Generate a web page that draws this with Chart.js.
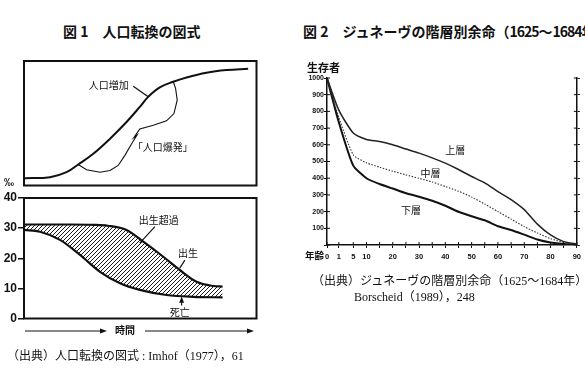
<!DOCTYPE html>
<html><head><meta charset="utf-8">
<script src="https://cdn.jsdelivr.net/npm/chart.js@4.4.1/dist/chart.umd.min.js"></script>
<style>
html,body{margin:0;padding:0;background:#fff;}
body{width:585px;height:370px;position:relative;overflow:hidden;font-family:"Noto Sans CJK JP",sans-serif;color:#111;}
.t{position:absolute;white-space:nowrap;line-height:1;}
.b{font-weight:bold;}
.cap{font-family:"Liberation Serif","Noto Sans CJK JP",serif;font-size:12px;}
.nd{letter-spacing:-1px;}
canvas{position:absolute;}
svg{position:absolute;left:0;top:0;}
</style></head><body>
<div class="t b" style="left:63px;top:24px;font-size:14px;">図 1　人口転換の図式</div>
<div class="t b" style="left:303px;top:24px;font-size:14px;">図 2　ジュネーヴの階層別余命（<span class="nd">1625</span>～<span class="nd">1684</span>年）</div>

<canvas id="cA" width="300" height="145" style="left:0;top:50px"></canvas>
<canvas id="cB" width="300" height="140" style="left:0;top:188px"></canvas>
<canvas id="cC" width="285" height="210" style="left:300px;top:60px"></canvas>

<div class="t b" style="left:4px;top:178px;font-size:10px;font-family:'Liberation Sans',sans-serif;">‰</div>
<div class="t b" style="left:115px;top:325px;font-size:10px;">時間</div>
<svg width="585" height="370">
  <line x1="25" y1="331" x2="103" y2="331" stroke="#111" stroke-width="1.2"/>
  <polygon points="107,331 100,328.5 100,333.5" fill="#111"/>
  <line x1="145" y1="331" x2="250" y2="331" stroke="#111" stroke-width="1.2"/>
  <polygon points="254,331 247,328.5 247,333.5" fill="#111"/>
</svg>
<div class="t cap" style="left:7px;top:350px;">（出典）人口転換の図式 : Imhof（1977），61</div>

<div class="t b" style="left:307px;top:62px;font-size:11px;">生存者</div>
<div class="t b" style="left:305px;top:251px;font-size:9.5px;">年齢</div>
<div class="t cap" style="left:312px;top:275px;">（出典）ジュネーヴの階層別余命（1625～1684年）:</div>
<div class="t cap" style="left:354px;top:291px;">Borscheid（1989），248</div>

<script>
// ---- Figure 1 data (schematic) ----
const GROWTH_T = [0.4, 11.2, 18.3, 23.3, 29.8, 37, 44.1, 49.8, 53.4, 58.4, 64.2, 69.9, 78.5, 87.1, 96.4];
const GROWTH   = [5.9, 6.7, 10.7, 16.9, 25.5, 37.6, 51, 63.1, 71.2, 78.8, 83.3, 86.8, 90.6, 92.7, 93.8];
const BIRTH_T  = [0, 10, 20, 30, 36, 44.1, 51.3, 59.9, 67, 74.2, 81.4, 85.4];
const BIRTH    = [31.2, 31.2, 31.2, 31.1, 30.8, 29.4, 25.5, 20.5, 16.1, 12.2, 10.8, 10.6];
const DEATH_T  = [0, 6.9, 15.5, 24.1, 32.7, 41.3, 49.8, 61.3, 72.8, 85.4];
const DEATH    = [29.4, 28.8, 26.1, 21.1, 15.5, 11.7, 9.5, 7.8, 7.2, 7.0];
const RATE_TICKS = [0, 10, 20, 30, 40];

// ---- Figure 2 data (survivors per 1000 by age) ----
const AGES   = [0, 1, 5, 10, 15, 20, 25, 30, 35, 40, 45, 50, 55, 60, 65, 70, 75, 80, 85, 90];
const UPPER  = [1000, 808, 670, 632, 620, 600, 575, 550, 522, 490, 452, 410, 372, 320, 272, 212, 125, 60, 20, 5];
const MIDDLE = [1000, 765, 540, 492, 466, 442, 420, 399, 377, 350, 322, 287, 245, 200, 155, 110, 72, 38, 15, 4];
const LOWER  = [1000, 735, 475, 400, 365, 338, 310, 289, 265, 235, 199, 172, 148, 112, 90, 62, 33, 15, 6, 3];
const AGE_TICKS  = [0, 1, 5, 10, 15, 20, 25, 30, 35, 40, 45, 50, 55, 60, 65, 70, 75, 80, 85, 90];
const AGE_LABELS = [0, 1, 5, 10, 20, 30, 40, 50, 60, 70, 80, 90];
const SURV_TICKS = [0, 100, 200, 300, 400, 500, 600, 700, 800, 900, 1000];

const INK = '#111';
const pts = (xs, ys) => xs.map((x, i) => ({x, y: ys[i]}));

// age axis of an abridged life table: first intervals drawn wider
const WARP_IN = [0, 1, 5, 10, 90], WARP_OUT = [-5, -0.5, 5, 10, 90];
function interp(v, a, b){
  if (v <= a[0]) return b[0] + (v - a[0]) * (b[1]-b[0])/(a[1]-a[0]);
  for (let i = 1; i < a.length; i++) if (v <= a[i]) return b[i-1] + (v - a[i-1])*(b[i]-b[i-1])/(a[i]-a[i-1]);
  const n = a.length - 1; return b[n] + (v - a[n]) * (b[n]-b[n-1])/(a[n]-a[n-1]);
}
class WarpScale extends Chart.LinearScale {
  getPixelForValue(v){ if (v === null || v === undefined) return NaN; const a = interp(this.min, WARP_IN, WARP_OUT), b = interp(this.max, WARP_IN, WARP_OUT); return this.getPixelForDecimal((interp(v, WARP_IN, WARP_OUT) - a)/(b - a)); }
  getValueForPixel(p){ const a = interp(this.min, WARP_IN, WARP_OUT), b = interp(this.max, WARP_IN, WARP_OUT); return interp(a + this.getDecimalForPixel(p)*(b - a), WARP_OUT, WARP_IN); }
}
WarpScale.id = 'warp';
WarpScale.defaults = Chart.LinearScale.defaults;
Chart.register(WarpScale);

Chart.defaults.animation = false;
Chart.defaults.events = [];
Chart.defaults.plugins.legend.display = false;
Chart.defaults.plugins.tooltip.enabled = false;

const boxPlugin = { id: 'box', afterDatasetsDraw(c){
  const o = c.options.plugins.box; if (!o) return;
  const {left, top, right, bottom} = c.chartArea, ctx = c.ctx;
  ctx.save(); ctx.strokeStyle = INK; ctx.lineWidth = o.w || 2;
  ctx.strokeRect(left, top, right - left, bottom - top); ctx.restore();
}};
const notesPlugin = { id: 'notes', afterDraw(c){
  const o = c.options.plugins.notes; if (!o) return;
  const ctx = c.ctx, xs = c.scales.x, ys = c.scales.y;
  const P = (p) => [xs.getPixelForValue(p[0]), ys.getPixelForValue(p[1])];
  ctx.save(); ctx.strokeStyle = INK; ctx.fillStyle = INK;
  (o.paths || []).forEach(pa => {
    ctx.lineWidth = pa.w || 1.2; ctx.beginPath();
    pa.pts.forEach((p, i) => { const q = P(p); i ? ctx.lineTo(q[0], q[1]) : ctx.moveTo(q[0], q[1]); });
    ctx.stroke();
    if (pa.arrow){ const q = P(pa.pts[pa.pts.length-1]); ctx.beginPath(); ctx.moveTo(q[0], q[1]-1); ctx.lineTo(q[0]-2.5, q[1]+5); ctx.lineTo(q[0]+2.5, q[1]+5); ctx.closePath(); ctx.fill(); }
  });
  (o.texts || []).forEach(t => {
    const q = P(t.at); ctx.font = t.font || '10px "Noto Sans CJK JP"';
    ctx.textAlign = 'center'; ctx.textBaseline = 'middle'; ctx.fillText(t.text, q[0], q[1]);
  });
  ctx.restore();
}};
const innerTicks = { id: 'innerTicks', afterDraw(c){
  const ctx = c.ctx; ctx.save(); ctx.strokeStyle = INK; ctx.lineWidth = 1;
  const a = c.chartArea;
  c.scales.x.ticks.forEach((t, i) => { const px = c.scales.x.getPixelForTick(i); ctx.beginPath(); ctx.moveTo(px, a.bottom); ctx.lineTo(px, a.bottom - 3); ctx.stroke(); });
  c.scales.y.ticks.forEach((t, i) => { const py = c.scales.y.getPixelForTick(i); ctx.beginPath(); ctx.moveTo(a.left, py); ctx.lineTo(a.left + 3, py); ctx.stroke(); });
  c.scales.y2.ticks.forEach((t, i) => { const py = c.scales.y2.getPixelForTick(i); ctx.beginPath(); ctx.moveTo(a.right, py); ctx.lineTo(a.right - 3, py); ctx.stroke(); });
  ctx.restore();
}};

function hatchPattern(){
  const s = 4, cv = document.createElement('canvas'); cv.width = s; cv.height = s;
  const g = cv.getContext('2d'); g.strokeStyle = '#1a1a1a'; g.lineWidth = 1;
  g.beginPath(); g.moveTo(0, s); g.lineTo(s, 0); g.moveTo(-1, 1); g.lineTo(1, -1); g.moveTo(s-1, s+1); g.lineTo(s+1, s-1); g.stroke();
  return g.createPattern(cv, 'repeat');
}

// Figure 1, top: population growth
new Chart(document.getElementById('cA'), {
  type: 'line',
  data: { datasets: [{ data: pts(GROWTH_T, GROWTH), borderColor: INK, borderWidth: 2, pointRadius: 0, tension: 0.4, fill: false }] },
  options: {
    responsive: false,
    layout: { padding: { left: 24, right: 43.5, top: 11, bottom: 9.5 } },
    scales: { x: { type: 'linear', min: 0, max: 100, display: false }, y: { min: 0, max: 100, display: false } },
    plugins: {
      box: { w: 2 },
      notes: {
        paths: [
          { pts: [[47, 79.8], [53.4, 71.2]], w: 1.2 },
          { pts: [[23.3, 16.9], [26.9, 12.6], [32.7, 10.7], [37, 12.1], [40.5, 16.1], [43.4, 24.2], [46.3, 33.6], [48.6, 40.5], [47.3, 38.6], [49.8, 45.4], [55.6, 48.4], [61.3, 51.9], [64.5, 57.8], [65.9, 68.5], [65.2, 78], [64.2, 83.3]], w: 1.1 }
        ],
        texts: [
          { text: '人口増加', at: [36.5, 80.6] },
          { text: '「人口爆発」', at: [59.7, 30.6] }
        ]
      }
    }
  },
  plugins: [boxPlugin, notesPlugin]
});

// Figure 1, bottom: birth and death rates
new Chart(document.getElementById('cB'), {
  type: 'line',
  data: { datasets: [
    { label: '出生', data: pts(BIRTH_T, BIRTH), borderColor: INK, borderWidth: 2.2, pointRadius: 0, cubicInterpolationMode: 'monotone', fill: false },
    { label: '死亡', data: pts(DEATH_T, DEATH), borderColor: INK, borderWidth: 2.2, pointRadius: 0, cubicInterpolationMode: 'monotone', fill: '-1', backgroundColor: hatchPattern() }
  ] },
  options: {
    responsive: false,
    layout: { padding: { left: 0, right: 43.5, top: 10, bottom: 9.5 } },
    scales: {
      x: { type: 'linear', min: 0, max: 100, display: false },
      y: { min: 0, max: 40, afterFit(s){ s.width = 24; }, afterBuildTicks(s){ s.ticks = RATE_TICKS.map(v => ({value: v})); },
           ticks: { font: { family: 'Liberation Sans', weight: 'bold', size: 12 }, color: INK, padding: 1 },
           grid: { drawOnChartArea: false, tickLength: 6, color: INK, lineWidth: 1.5 }, border: { display: false } }
    },
    plugins: {
      box: { w: 2 },
      notes: {
        paths: [
          { pts: [[56.3, 30.5], [49.8, 25]], w: 1.2 },
          { pts: [[69.2, 19.4], [67, 16.7]], w: 1.2 },
          { pts: [[67.8, 4.3], [67.8, 6.9]], w: 1.1, arrow: true }
        ],
        texts: [
          { text: '出生超過', at: [58, 32.7] },
          { text: '出生', at: [70.5, 21.7] },
          { text: '死亡', at: [67, 2.2] }
        ]
      }
    }
  },
  plugins: [boxPlugin, notesPlugin]
});

// Figure 2: survivors by social stratum, Geneva 1625-1684
new Chart(document.getElementById('cC'), {
  type: 'line',
  data: { datasets: [
    { label: '上層', data: pts(AGES, UPPER), borderColor: '#222', borderWidth: 1.5, pointRadius: 0, tension: 0.2, fill: false },
    { label: '中層', data: pts(AGES, MIDDLE), borderColor: '#333', borderWidth: 1.1, borderDash: [1.5, 1.5], pointRadius: 0, tension: 0.2, fill: false },
    { label: '下層', data: pts(AGES, LOWER), borderColor: INK, borderWidth: 2, pointRadius: 0, tension: 0.2, fill: false }
  ] },
  options: {
    responsive: false,
    layout: { padding: { left: 0, right: 0, top: 18, bottom: 0 } },
    scales: {
      x: { type: 'warp', min: 0, max: 90, position: 'bottom',
           afterFit(s){ s.height = 25; }, afterBuildTicks(s){ s.ticks = AGE_TICKS.map(v => ({value: v})); },
           ticks: { autoSkip: false, maxRotation: 0, padding: 4, color: INK, font: { family: 'Liberation Sans', weight: 'bold', size: 7.5 },
                    callback: (v) => AGE_LABELS.includes(v) ? String(v) : '' },
           grid: { drawOnChartArea: false, tickLength: 3, color: INK, lineWidth: 1 }, border: { display: true, color: INK, width: 1.5 } },
      y: { min: 0, max: 1000, position: 'left',
           afterFit(s){ s.width = 27; }, afterBuildTicks(s){ s.ticks = SURV_TICKS.map(v => ({value: v})); },
           ticks: { padding: 0, color: INK, font: { family: 'Liberation Sans', weight: 'bold', size: 7 }, callback: (v) => v === 0 ? '' : String(v) },
           grid: { drawOnChartArea: false, tickLength: 3, color: INK, lineWidth: 1 }, border: { display: true, color: INK, width: 1.5 } },
      y2: { min: 0, max: 1000, position: 'right',
           afterFit(s){ s.width = 4.5; }, afterBuildTicks(s){ s.ticks = SURV_TICKS.map(v => ({value: v})); },
           ticks: { display: false },
           grid: { drawOnChartArea: false, tickLength: 3, color: INK, lineWidth: 1 }, border: { display: true, color: INK, width: 1.5 } }
    },
    plugins: {
      notes: {
        texts: [
          { text: '上層', at: [43.8, 569] },
          { text: '中層', at: [34.4, 431] },
          { text: '下層', at: [26.9, 210] }
        ]
      }
    }
  },
  plugins: [notesPlugin, innerTicks]
});
</script>
</body></html>
